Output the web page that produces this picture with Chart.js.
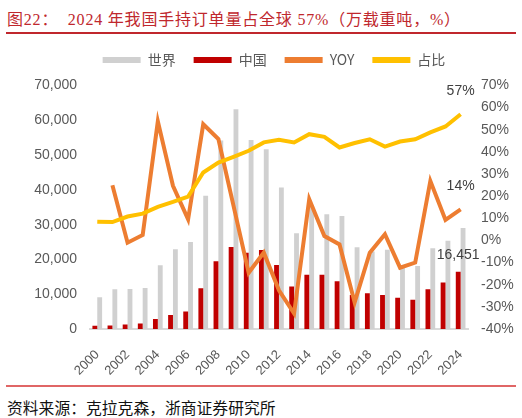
<!DOCTYPE html>
<html>
<head>
<meta charset="utf-8">
<script src="https://cdn.jsdelivr.net/npm/chart.js@4.4.1/dist/chart.umd.min.js"></script>
<style>
  html, body { margin: 0; padding: 0; background: #fff; }
  body { width: 522px; height: 418px; position: relative; overflow: hidden; }
  #title {
    position: absolute; left: 7px; top: 6px; white-space: nowrap;
    font-family: 'Liberation Serif', 'Noto Sans CJK SC', serif;
    font-size: 16px; letter-spacing: 0.8px; color: #C0272D;
  }
  #rule-top { position: absolute; left: 6px; top: 32px; width: 510px; height: 1.5px; background: #C0272D; }
  #rule-bottom { position: absolute; left: 6px; top: 385px; width: 510px; height: 2px; background: #E06666; }
  #source {
    position: absolute; left: 7px; top: 396px; white-space: nowrap;
    font-family: 'Noto Sans CJK SC', sans-serif; font-size: 15.8px; color: #111;
  }
  #wrap { position: absolute; left: 0; top: 35px; width: 522px; height: 345px; }
</style>
</head>
<body>
<div id="title">图22：&nbsp; 2024 年我国手持订单量占全球 57%（万载重吨，%）</div>
<div id="rule-top"></div>
<div id="wrap"><canvas id="chart" width="522" height="345"></canvas></div>
<div id="rule-bottom"></div>
<div id="source">资料来源：克拉克森，浙商证券研究所</div>

<script>
// 手持订单量（万载重吨）与中国占比
const years = ['2000', '2001', '2002', '2003', '2004', '2005', '2006', '2007', '2008', '2009',
  '2010', '2011', '2012', '2013', '2014', '2015', '2016', '2017', '2018', '2019',
  '2020', '2021', '2022', '2023', '2024'];

const world = [9100, 11400, 11500, 11800, 18300, 22900, 25000, 38300, 54200, 63200,
  54300, 51700, 40700, 27500, 35500, 33000, 32500, 23500, 22300, 22800,
  17900, 18100, 23200, 25400, 29000];

const china = [900, 1000, 1300, 1600, 2900, 4000, 5000, 11700, 19500, 23600,
  21900, 22700, 18400, 12200, 15600, 15600, 13700, 9800, 10300, 9800,
  9000, 8400, 11400, 13400, 16451];

// 同比（%），2000年无数据
const yoy = [null, 24.9, -1, 2.5, 53.8, 24.7, 9.5, 52.5, 45.8, 15.6,
  -14.6, -5.5, -22.5, -33, 18.6, 2, -1.8, -28, -5.5, 2.8,
  -12.3, -10, 26.9, 9.3, 14];

// 中国占全球比例（%）
const share = [8.5, 8.3, 10.8, 12.1, 15.2, 17.4, 19.8, 30.7, 35.2, 37.8,
  40.5, 44.3, 45.5, 44.3, 48, 46.8, 42, 44, 45.7, 42.4,
  44.7, 45.7, 48.8, 51.5, 57];

const leftTicks = { min: 0, max: 70000, step: 10000 };
const rightTicks = { min: -40, max: 70, step: 10 };

const tickColor = '#595959';
Chart.defaults.font.family = "'Liberation Sans', 'Noto Sans CJK SC', sans-serif";
Chart.defaults.color = tickColor;

// extra room under the legend
const legendGap = {
  id: 'legendGap',
  beforeInit(chart) {
    const fit = chart.legend.fit;
    chart.legend.fit = function() {
      fit.bind(chart.legend)();
      this.height += 8.5;
    };
  }
};

// value labels on the last point of three series
const endLabels = {
  id: 'endLabels',
  afterDatasetsDraw(chart) {
    const ctx = chart.ctx;
    const last = years.length - 1;
    const marks = [
      { ds: 3, text: share[last] + '%', dy: 23 },
      { ds: 2, text: yoy[last] + '%', dy: 23 },
      { ds: 1, text: china[last].toLocaleString('en-US'), dy: 17 }
    ];
    ctx.save();
    ctx.font = "14px 'Liberation Sans', sans-serif";
    ctx.fillStyle = '#404040';
    ctx.textAlign = 'center';
    ctx.textBaseline = 'middle';
    marks.forEach(m => {
      const el = chart.getDatasetMeta(m.ds).data[last];
      ctx.fillText(m.text, el.x, el.y - m.dy);
    });
    ctx.restore();
  }
};

new Chart(document.getElementById('chart'), {
  type: 'bar',
  data: {
    labels: years,
    datasets: [{
      label: '世界',
      data: world,
      backgroundColor: '#D0D0D0',
      borderColor: '#D0D0D0',
      borderWidth: 0,
      yAxisID: 'y',
      order: 4,
      categoryPercentage: 0.64,
      barPercentage: 1.0
    }, {
      label: '中国',
      data: china,
      backgroundColor: '#C00000',
      borderColor: '#C00000',
      borderWidth: 0,
      yAxisID: 'y',
      order: 3,
      categoryPercentage: 0.64,
      barPercentage: 1.0
    }, {
      type: 'line',
      label: 'YOY',
      data: yoy,
      borderColor: '#ED7D31',
      backgroundColor: '#ED7D31',
      borderWidth: 4,
      pointRadius: 0,
      tension: 0,
      fill: false,
      spanGaps: false,
      yAxisID: 'y1',
      order: 2
    }, {
      type: 'line',
      label: '占比',
      data: share,
      borderColor: '#FFC000',
      backgroundColor: '#FFC000',
      borderWidth: 4,
      pointRadius: 0,
      tension: 0,
      fill: false,
      yAxisID: 'y1',
      order: 1
    }]
  },
  options: {
    responsive: false,
    animation: false,
    layout: { padding: { left: 28, right: 2, top: 0, bottom: 0 } },
    plugins: {
      tooltip: { enabled: false },
      legend: {
        position: 'top',
        labels: {
          boxWidth: 38,
          boxHeight: 6,
          padding: 18,
          color: tickColor,
          font: { size: 14, family: "'Noto Sans CJK SC', sans-serif" },
          generateLabels(chart) {
            const items = Chart.defaults.plugins.legend.labels.generateLabels(chart);
            items.forEach(it => {
              const ds = chart.data.datasets[it.datasetIndex];
              it.fillStyle = ds.borderColor;
              it.strokeStyle = ds.borderColor;
              it.lineWidth = 0;
            });
            return items.sort((a, b) => a.datasetIndex - b.datasetIndex);
          }
        }
      }
    },
    scales: {
      x: {
        grid: { display: false },
        border: { display: true, color: '#D9D9D9', width: 2 },
        ticks: {
          autoSkip: false,
          minRotation: 45,
          maxRotation: 45,
          padding: 10,
          color: tickColor,
          font: { size: 13 },
          callback: (v, i) => (i % 2 === 0 ? years[i] : '')
        },
        afterFit: (scale) => { scale.height = 51; }
      },
      y: {
        position: 'left',
        min: leftTicks.min,
        max: leftTicks.max,
        grid: { display: false, drawTicks: false },
        border: { display: false },
        ticks: {
          stepSize: leftTicks.step,
          padding: 12.7,
          color: tickColor,
          font: { size: 14 },
          callback: (v) => v.toLocaleString('en-US')
        },
        afterFit: (scale) => { scale.width = 61.7; }
      },
      y1: {
        position: 'right',
        min: rightTicks.min,
        max: rightTicks.max,
        grid: { display: false, drawTicks: false },
        border: { display: false },
        ticks: {
          stepSize: rightTicks.step,
          padding: 12.8,
          color: tickColor,
          font: { size: 14 },
          callback: (v) => v + '%'
        },
        afterFit: (scale) => { scale.width = 51.8; }
      }
    }
  },
  plugins: [legendGap, endLabels]
});
</script>
</body>
</html>
